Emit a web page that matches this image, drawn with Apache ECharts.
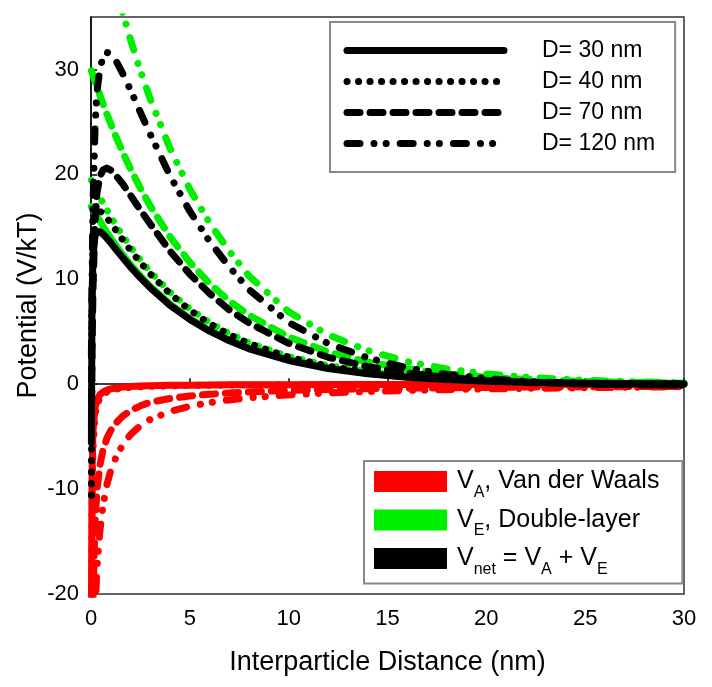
<!DOCTYPE html>
<html>
<head>
<meta charset="utf-8">
<script src="https://cdn.jsdelivr.net/npm/echarts@6/dist/echarts.min.js"></script>
<style>
html,body{margin:0;padding:0;background:#fff;}
#chart{width:712px;height:687px;}
</style>
</head>
<body>
<div id="chart"></div>
<script>
// Interparticle distance (nm)
const distance = [0.02, 0.05, 0.1, 0.2, 0.3, 0.45, 0.6, 0.8, 1, 1.3, 1.6, 2, 2.5, 3, 4, 5, 6, 7, 8, 10, 12, 14, 16, 18, 20, 22, 25, 28, 30];

// V_A, Van der Waals (red)
const vaD30  = [-22.5, -9.0, -4.5, -2.25, -1.5, -1.0, -0.75, -0.56, -0.45, -0.35, -0.28, -0.23, -0.18, -0.15, -0.11, -0.09, -0.075, -0.064, -0.056, -0.045, -0.038, -0.032, -0.028, -0.025, -0.023, -0.02, -0.018, -0.016, -0.015];
const vaD40  = [-30, -12, -6, -3, -2, -1.33, -1.0, -0.75, -0.6, -0.46, -0.38, -0.3, -0.24, -0.2, -0.15, -0.12, -0.1, -0.086, -0.075, -0.06, -0.05, -0.043, -0.038, -0.033, -0.03, -0.027, -0.024, -0.021, -0.02];
const vaD70  = [-33.9, -26.7, -20.4, -13.5, -10.15, -7.74, -6.36, -5.17, -4.41, -3.63, -3.04, -2.52, -2.06, -1.72, -1.36, -1.12, -0.96, -0.84, -0.74, -0.6, -0.5, -0.43, -0.38, -0.34, -0.31, -0.28, -0.25, -0.22, -0.21];
const vaD120 = [-45, -38, -30, -22, -17.5, -14, -11.7, -9.6, -8.2, -6.8, -5.8, -4.8, -3.95, -3.35, -2.6, -2.1, -1.75, -1.5, -1.3, -1.02, -0.83, -0.7, -0.6, -0.52, -0.45, -0.4, -0.34, -0.28, -0.25];

// V_E, Double-layer (green)
const veD30  = [16.93, 16.83, 16.66, 16.34, 16.01, 15.54, 15.08, 14.48, 13.92, 13.11, 12.34, 11.39, 10.32, 9.33, 7.63, 6.26, 5.12, 4.20, 3.43, 2.30, 1.54, 1.03, 0.69, 0.46, 0.31, 0.21, 0.11, 0.06, 0.04];
const veD40  = [19.42, 19.31, 19.11, 18.74, 18.37, 17.82, 17.30, 16.61, 15.97, 15.03, 14.16, 13.07, 11.84, 10.71, 8.76, 7.18, 5.87, 4.82, 3.94, 2.63, 1.77, 1.19, 0.80, 0.53, 0.36, 0.24, 0.13, 0.07, 0.05];
const veD70  = [29.88, 29.73, 29.43, 28.89, 28.35, 27.54, 26.76, 25.77, 24.81, 23.43, 22.14, 20.52, 18.66, 16.98, 14.04, 11.61, 9.60, 7.92, 6.57, 4.50, 3.06, 2.10, 1.44, 0.99, 0.66, 0.45, 0.26, 0.15, 0.10];
const veD120 = [47.8, 47.57, 47.09, 46.22, 45.36, 44.06, 42.82, 41.23, 39.70, 37.49, 35.42, 32.83, 29.86, 27.17, 22.46, 18.58, 15.36, 12.67, 10.3, 6.9, 4.7, 3.2, 2.15, 1.45, 0.98, 0.66, 0.37, 0.21, 0.15];

// V_net = V_A + V_E (black)
const netD30  = [-5.57, 7.83, 12.16, 14.09, 14.51, 14.54, 14.33, 13.92, 13.47, 12.76, 12.06, 11.16, 10.14, 9.18, 7.52, 6.17, 5.05, 4.14, 3.37, 2.26, 1.50, 1.00, 0.66, 0.44, 0.29, 0.19, 0.09, 0.04, 0.03];
const netD40  = [-10.58, 7.31, 13.11, 15.74, 16.37, 16.49, 16.30, 15.86, 15.37, 14.57, 13.78, 12.77, 11.60, 10.51, 8.61, 7.06, 5.77, 4.73, 3.87, 2.57, 1.72, 1.15, 0.76, 0.50, 0.33, 0.21, 0.11, 0.05, 0.03];
const netD70  = [-4.02, 3.03, 9.03, 15.39, 18.2, 19.8, 20.4, 20.6, 20.4, 19.8, 19.1, 18.0, 16.6, 15.26, 12.68, 10.49, 8.64, 7.08, 5.83, 3.90, 2.56, 1.67, 1.06, 0.65, 0.35, 0.17, 0.01, -0.07, -0.11];
const netD120 = [2.8, 9.57, 17.09, 24.22, 27.86, 30.06, 31.12, 31.63, 31.5, 30.69, 29.62, 28.03, 25.91, 23.82, 19.86, 16.48, 13.61, 11.17, 9.0, 5.88, 3.87, 2.5, 1.55, 0.93, 0.53, 0.26, 0.03, -0.07, -0.1];

// Legend texts
const sizeNames = ['D= 30 nm', 'D= 40 nm', 'D= 70 nm', 'D= 120 nm'];
const compNames = ['VA', 'VE', 'Vnet'];
const compLabels = {
  VA: '{m|V}{s|A}{m|, Van der Waals}',
  VE: '{m|V}{s|E}{m|, Double-layer}',
  Vnet: '{m|V}{s|net}{m| = V}{s|A}{m| + V}{s|E}'
};

const RED = '#ff0000', GREEN = '#00ee00', BLACK = '#000000';
const dashTypes = ['solid', [0.1, 11.4], [13, 10], [13, 14, 0.1, 12, 0.1, 14]];

function pts(arr) { return distance.map((x, i) => [x, arr[i]]); }

function curve(name, arr, color, dashIdx, z) {
  return {
    type: 'line', name: name, data: pts(arr),
    symbol: 'none', showSymbol: false, silent: true, z: z,
    lineStyle: { color: color, width: 7, type: dashTypes[dashIdx], cap: 'round', join: 'round' },
    itemStyle: { color: color }
  };
}

const series = [];
[vaD30, vaD40, vaD70, vaD120].forEach((a, i) => series.push(curve('red' + i, a, RED, i, 2)));
[veD30, veD40, veD70, veD120].forEach((a, i) => series.push(curve('green' + i, a, GREEN, i, 3)));
[netD30, netD40, netD70, netD120].forEach((a, i) => series.push(curve('black' + i, a, BLACK, i, 4)));
// legend-only series (no marks)
sizeNames.forEach((n, i) => series.push({
  type: 'line', name: n, data: [], symbol: 'none',
  lineStyle: { color: BLACK, width: 7, type: dashTypes[i], cap: 'round' },
  itemStyle: { color: BLACK }
}));
[RED, GREEN, BLACK].forEach((c, i) => series.push({
  type: 'line', name: compNames[i], data: [], symbol: 'none',
  lineStyle: { color: c }, itemStyle: { color: c }
}));

const chart = echarts.init(document.getElementById('chart'), null, { renderer: 'canvas' });
chart.setOption({
  animation: false,
  backgroundColor: '#fff',
  textStyle: { fontFamily: 'Liberation Sans, Arial, sans-serif' },
  grid: { left: 91, right: 28, top: 17, bottom: 93, show: true, borderColor: '#333', borderWidth: 1.5, backgroundColor: 'transparent' },
  xAxis: {
    type: 'value', min: 0, max: 30, interval: 5,
    name: 'Interparticle Distance (nm)', nameLocation: 'middle', nameGap: 55,
    nameMoveOverlap: false,
    nameTextStyle: { fontSize: 27, color: '#000' },
    axisLine: { show: true, lineStyle: { color: '#000', width: 1.5 } },
    axisTick: { show: true, inside: true, length: 6, lineStyle: { color: '#000', width: 1.5 } },
    axisLabel: { fontSize: 22, color: '#000', margin: 14 },
    splitLine: { show: false }
  },
  yAxis: {
    type: 'value', min: -20, max: 35, interval: 10,
    name: 'Potential (V/kT)', nameLocation: 'middle', nameGap: 49,
    nameMoveOverlap: false,
    nameTextStyle: { fontSize: 27, color: '#000' },
    axisLine: { show: true, lineStyle: { color: '#000', width: 1.5 } },
    axisTick: { show: true, inside: true, length: 6, lineStyle: { color: '#000', width: 1.5 } },
    axisLabel: { fontSize: 22, color: '#000', margin: 12, showMaxLabel: false },
    splitLine: { show: false }
  },
  legend: [
    {
      data: sizeNames, orient: 'vertical', left: 330, top: 22,
      itemWidth: 157, itemHeight: 14, itemGap: 0,
      padding: [13, 20, 13, 13.5],
      backgroundColor: '#fff', borderColor: '#888', borderWidth: 2,
      selectedMode: false,
      lineStyle: { width: 7, cap: 'round' },
      itemStyle: { opacity: 0 },
      textStyle: { fontSize: 23, color: '#000', lineHeight: 31, padding: [0, 0, 0, 33] }
    },
    {
      data: compNames, orient: 'vertical', left: 364, top: 461,
      icon: 'rect', itemWidth: 73, itemHeight: 21, itemGap: 7,
      padding: [8, 23, 6, 10],
      backgroundColor: '#fff', borderColor: '#888', borderWidth: 2,
      selectedMode: false,
      formatter: function (name) { return compLabels[name]; },
      textStyle: {
        color: '#000', padding: [0, 0, 0, 5],
        rich: {
          m: { fontSize: 25, lineHeight: 38, color: '#000', verticalAlign: 'middle' },
          s: { fontSize: 16, lineHeight: 14, color: '#000', verticalAlign: 'bottom' }
        }
      }
    }
  ],
  series: series
});
</script>
</body>
</html>
